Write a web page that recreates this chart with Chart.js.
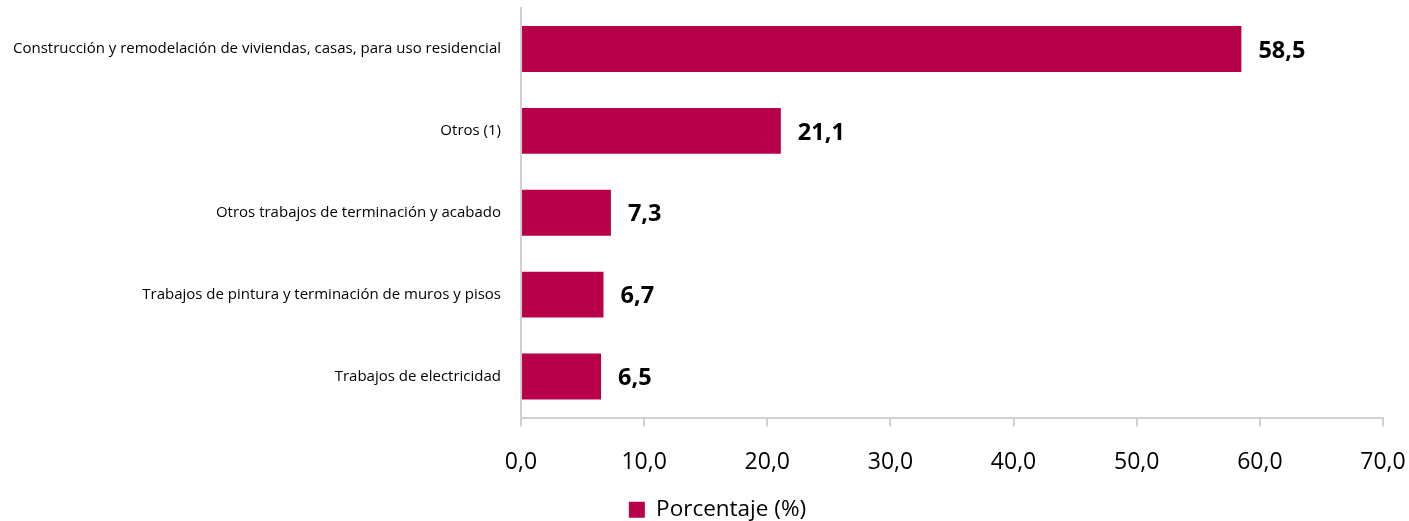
<!DOCTYPE html>
<html>
<head>
<meta charset="utf-8">
<script src="https://cdn.jsdelivr.net/npm/chart.js@4"></script>
<style>
  html, body { margin: 0; padding: 0; background: #fff; }
  #wrap { width: 1409px; height: 521px; }
</style>
</head>
<body>
<div id="wrap"><canvas id="barChart"></canvas></div>
<script>
const categories = [
    'Construcción y remodelación de viviendas, casas, para uso residencial',
    'Otros (1)',
    'Otros trabajos de terminación y acabado',
    'Trabajos de pintura y terminación de muros y pisos',
    'Trabajos de electricidad'
];
const porcentaje = [58.5, 21.1, 7.3, 6.7, 6.5];
const xTicks = [0, 10, 20, 30, 40, 50, 60, 70];

const fmt = v => Number(v).toFixed(1).replace('.', ',');
const barColor = '#B8004A';
const axisColor = '#D0D0D0';

// valores al final de cada barra
const valueLabels = {
    id: 'valueLabels',
    afterDatasetsDraw(chart) {
        const ctx = chart.ctx;
        const meta = chart.getDatasetMeta(0);
        ctx.save();
        ctx.font = 'bold 23.5px "Open Sans"';
        ctx.fillStyle = '#000';
        ctx.textBaseline = 'middle';
        ctx.textAlign = 'left';
        meta.data.forEach((bar, i) => {
            ctx.fillText(fmt(porcentaje[i]), bar.x + 17, bar.y + 2);
        });
        ctx.restore();
    }
};

// mover la leyenda un poco a la derecha y abajo
const legendShift = {
    id: 'legendShift',
    afterLayout(chart) {
        const lg = chart.legend;
        lg.left += 52;
        lg.width -= 52;
        lg.top += 10;
        lg.bottom += 10;
    }
};

const ctx = document.getElementById('barChart').getContext('2d');
const barChart = new Chart(ctx, {
    type: 'bar',
    data: {
        labels: categories,
        datasets: [{
            label: 'Porcentaje (%)',
            data: porcentaje,
            backgroundColor: barColor,
            borderWidth: 0,
            barPercentage: 0.56,
            categoryPercentage: 1.0
        }]
    },
    options: {
        indexAxis: 'y',
        responsive: true,
        maintainAspectRatio: false,
        animation: false,
        layout: {
            padding: { top: 8, right: 26, left: 0, bottom: 0 }
        },
        scales: {
            x: {
                min: 0,
                max: 70,
                afterBuildTicks: scale => {
                    scale.ticks = xTicks.map(v => ({ value: v }));
                },
                afterFit: scale => {
                    scale.height = 69;
                    scale.paddingLeft = 0;
                    scale.paddingRight = 0;
                },
                ticks: {
                    callback: v => fmt(v),
                    color: '#000',
                    font: { family: 'Open Sans', size: 23 },
                    padding: 22,
                    maxRotation: 0
                },
                grid: {
                    drawOnChartArea: false,
                    drawTicks: true,
                    tickLength: 9,
                    color: axisColor,
                    lineWidth: 2
                },
                border: { color: axisColor, width: 2 }
            },
            y: {
                afterFit: scale => {
                    scale.width = 521;
                    scale.paddingTop = 0;
                    scale.paddingBottom = 0;
                },
                ticks: {
                    color: '#000',
                    font: { family: 'Open Sans', size: 15 },
                    padding: 20
                },
                grid: { display: false, drawTicks: false },
                border: { color: axisColor, width: 2 }
            }
        },
        plugins: {
            legend: {
                display: true,
                position: 'bottom',
                labels: {
                    color: '#000',
                    font: { family: 'Open Sans', size: 22.5 },
                    boxWidth: 16,
                    boxHeight: 16,
                    padding: 2
                }
            },
            tooltip: { enabled: false }
        }
    },
    plugins: [valueLabels, legendShift]
});
</script>
</body>
</html>
